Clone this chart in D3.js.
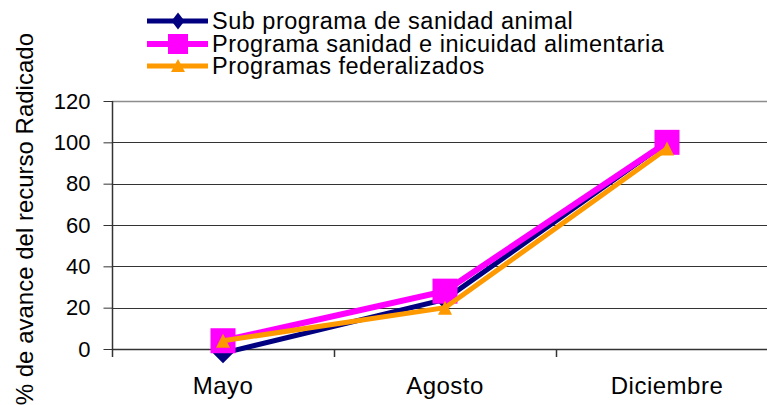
<!DOCTYPE html>
<html><head><meta charset="utf-8">
<script src="https://cdn.jsdelivr.net/npm/d3@7"></script>
<style>
html,body{margin:0;padding:0;background:#fff;}
svg{display:block;font-family:"Liberation Sans",Arial,sans-serif;}
</style></head>
<body><svg id="c" width="767" height="405"></svg>
<script>
const categories = ["Mayo", "Agosto", "Diciembre"];
const seriesNames = ["Sub programa de sanidad animal", "Programa sanidad e inicuidad alimentaria", "Programas federalizados"];
const subProgramaSanidadAnimal = [-2, 24, 100];
const programaSanidadInocuidad = [4, 28, 100];
const programasFederalizados = [4, 20, 97];
const yTicks = [0, 20, 40, 60, 80, 100, 120];
const yTitle = "% de avance del recurso Radicado";

const series = [
  {name: seriesNames[0], values: subProgramaSanidadAnimal, color: "#000080", width: 5, marker: "diamond"},
  {name: seriesNames[1], values: programaSanidadInocuidad, color: "#FF00FF", width: 6, marker: "square"},
  {name: seriesNames[2], values: programasFederalizados, color: "#FF9900", width: 5, marker: "triangle"}
];

const svg = d3.select("#c");
const plotLeft = 112, plotTop = 101, plotBottom = 349, step = 222;
const x = d3.scaleBand().domain(categories).range([plotLeft, plotLeft + step * categories.length]).paddingInner(0).paddingOuter(0);
const y = d3.scaleLinear().domain([0, 120]).range([plotBottom, plotTop]);

// gridlines
svg.append("g").selectAll("line").data(yTicks.filter(t => t > 0)).join("line")
  .attr("x1", plotLeft).attr("x2", 767)
  .attr("y1", d => Math.round(y(d)) + 0.5).attr("y2", d => Math.round(y(d)) + 0.5)
  .attr("stroke", d => d === 120 ? "#8c8c8c" : "#333").attr("stroke-width", d => d === 120 ? 1.5 : 1);

// y axis
const yAxis = d3.axisLeft(y).tickValues(yTicks).tickSize(9).tickPadding(13);
const gy = svg.append("g").attr("transform", `translate(${plotLeft + 0.5},0)`).call(yAxis);
gy.select(".domain").remove();
gy.selectAll(".tick line").attr("stroke", "#333");
gy.selectAll("text").attr("font-size", 22).attr("fill", "#000")
  .attr("font-family", "Liberation Sans, Arial, sans-serif");
svg.append("line").attr("x1", plotLeft + 0.5).attr("x2", plotLeft + 0.5).attr("y1", plotTop).attr("y2", plotBottom + 8)
  .attr("stroke", "#333").attr("stroke-width", 1.5);

// x axis
const xAxis = d3.axisBottom(x).tickSize(0).tickPadding(27);
const gx = svg.append("g").attr("transform", `translate(0,${Math.round(plotBottom) + 0.5})`).call(xAxis);
gx.select(".domain").remove();
gx.selectAll("text").attr("font-size", 24).attr("letter-spacing", "0.5px").attr("fill", "#000")
  .attr("font-family", "Liberation Sans, Arial, sans-serif");
svg.append("line").attr("x1", plotLeft).attr("x2", 767).attr("y1", Math.round(plotBottom) + 0.5).attr("y2", Math.round(plotBottom) + 0.5)
  .attr("stroke", "#333").attr("stroke-width", 1.5);
svg.append("g").selectAll("line").data(categories.slice(1)).join("line")
  .attr("x1", d => Math.round(x(d)) + 0.5).attr("x2", d => Math.round(x(d)) + 0.5)
  .attr("y1", plotBottom).attr("y2", plotBottom + 8).attr("stroke", "#333").attr("stroke-width", 1.5);

// y title
svg.append("text").attr("transform", "translate(33,33) rotate(-90)")
  .attr("text-anchor", "end").attr("font-size", 24).attr("fill", "#000").text(yTitle);

function markerPath(type) {
  if (type === "diamond") return "M0,-10 L10,0 L0,10 L-10,0 Z";
  if (type === "square") return "M-12.5,-12.5 H12.5 V12.5 H-12.5 Z";
  return "M0,-7 L7,7 L-7,7 Z";
}
function legendMarker(type) {
  if (type === "diamond") return "M0,-8.5 L6.5,0 L0,8.5 L-6.5,0 Z";
  if (type === "square") return "M-10,-10 H10 V10 H-10 Z";
  return "M0,-7 L7,6 L-7,6 Z";
}

const line = d3.line().x((d, i) => x(categories[i]) + x.bandwidth() / 2).y(d => y(d));
series.forEach(s => {
  const g = svg.append("g");
  g.append("path").attr("d", line(s.values)).attr("fill", "none")
    .attr("stroke", s.color).attr("stroke-width", s.width).attr("stroke-linejoin", "miter");
  g.selectAll("path.m").data(s.values).join("path").attr("class", "m")
    .attr("transform", (d, i) => `translate(${x(categories[i]) + x.bandwidth() / 2},${y(d)})`)
    .attr("d", markerPath(s.marker)).attr("fill", s.color);
});

// legend
const legY = [21, 44, 66];
series.forEach((s, i) => {
  const g = svg.append("g").attr("transform", `translate(0,${legY[i]})`);
  g.append("line").attr("x1", 147).attr("x2", 208).attr("y1", 0).attr("y2", 0)
    .attr("stroke", s.color).attr("stroke-width", s.width);
  g.append("path").attr("transform", "translate(178,0)").attr("d", legendMarker(s.marker)).attr("fill", s.color);
  g.append("text").attr("x", 212).attr("y", 0).attr("dy", "0.35em").attr("font-size", 23.5)
    .attr("letter-spacing", "0.5px").attr("fill", "#000").text(s.name);
});
</script></body></html>
